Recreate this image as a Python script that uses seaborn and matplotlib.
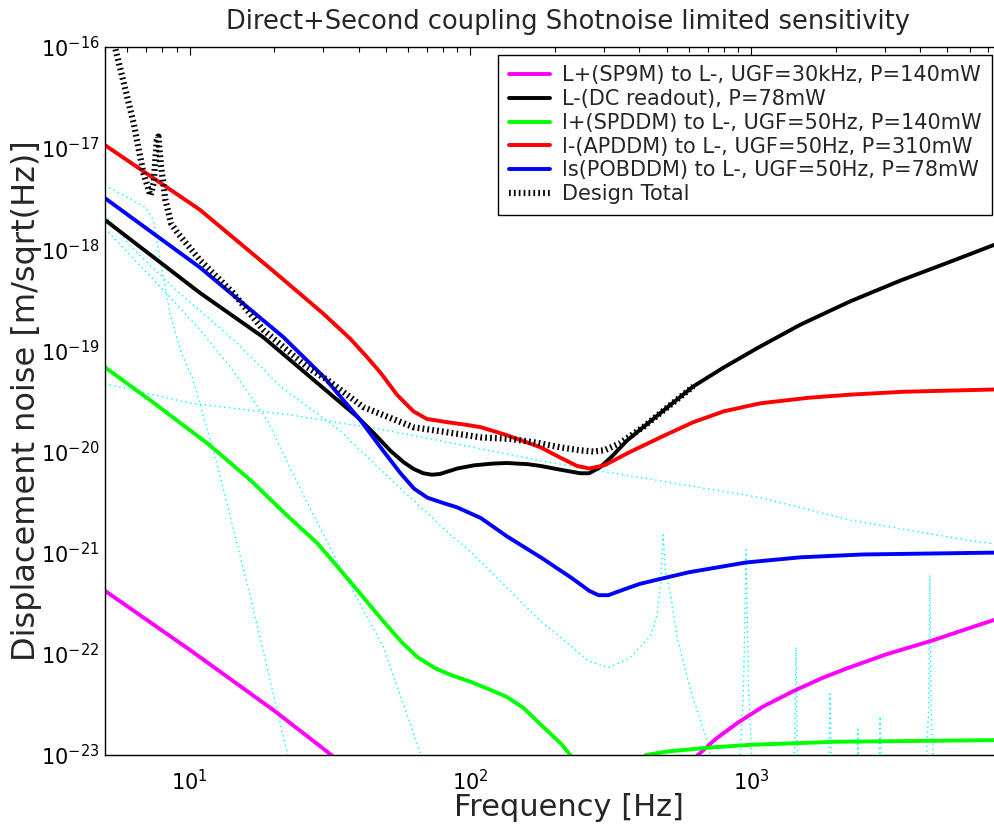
import matplotlib
matplotlib.use("Agg")
import numpy as np
import pandas as pd
import matplotlib.pyplot as plt
import seaborn as sns

# values (Hz, m/sqrt(Hz))
f_sp9m = [5, 10, 20, 30, 60, 150, 300, 450, 647, 750, 900, 1100, 1420, 1800, 2200, 3000, 4400, 6000,
          7100, 10000]
n_sp9m = [4.2e-22, 1.1e-22, 2.75e-23, 1.15e-23, 2.5e-24, 8e-25, 1.5e-24, 4e-24, 1.0e-23, 1.45e-23,
          2.1e-23, 3.0e-23, 4.3e-23, 5.8e-23, 7.2e-23, 9.8e-23, 1.35e-22, 1.8e-22, 2.1e-22, 2.8e-22]

f_dc = [5, 10.9, 18.3, 39.6, 45, 51.9, 58, 63, 68, 73, 78, 90, 103, 120, 135, 160, 178, 210, 246,
        265, 290, 320, 362, 475, 622, 800, 1050, 1500, 2250, 3400, 5100, 7300, 10000]
n_dc = [1.95e-18, 3.7e-19, 1.35e-19, 2.2e-20, 1.55e-20, 1.02e-20, 7.8e-21, 6.7e-21, 6.1e-21, 5.9e-21,
        6.0e-21, 6.8e-21, 7.3e-21, 7.6e-21, 7.7e-21, 7.5e-21, 7.2e-21, 6.6e-21, 6.1e-21, 6.1e-21,
        7.0e-21, 9.0e-21, 1.29e-20, 2.4e-20, 4.4e-20, 6.8e-20, 1.05e-19, 1.8e-19, 3.05e-19, 4.9e-19,
        7.5e-19, 1.1e-18, 1.45e-18]

f_spddm = [5, 7.26, 11.6, 16.5, 22, 28.6, 35, 42, 49, 57, 64.7, 75, 84.9, 100, 118, 135, 155, 178,
           210, 234, 300, 380, 423, 500, 700, 1000, 2000, 7100, 10000]
n_spddm = [6.8e-20, 3.2e-20, 1.2e-20, 5.2e-21, 2.4e-21, 1.23e-21, 6.4e-22, 3.5e-22, 2.1e-22, 1.3e-22,
           9.3e-23, 7.2e-23, 6.2e-23, 5.3e-23, 4.4e-23, 3.75e-23, 2.9e-23, 2.0e-23, 1.3e-23, 9e-24,
           5e-24, 8e-24, 1.0e-23, 1.08e-23, 1.18e-23, 1.26e-23, 1.35e-23, 1.4e-23, 1.4e-23]

f_apddm = [5, 10.9, 20, 30, 37.4, 43, 47.9, 55, 62.7, 70, 82.8, 95, 109, 135, 178, 209, 240, 265,
           300, 362, 475, 622, 800, 1080, 1600, 2250, 3500, 7200, 10000]
n_apddm = [1.07e-17, 2.45e-18, 6.0e-19, 2.3e-19, 1.3e-19, 8.5e-20, 6.0e-20, 3.6e-20, 2.5e-20,
           2.1e-20, 1.95e-20, 1.85e-20, 1.74e-20, 1.45e-20, 1.1e-20, 8.7e-21, 7.2e-21, 6.8e-21,
           7.3e-21, 9.6e-21, 1.38e-20, 1.95e-20, 2.5e-20, 3.0e-20, 3.4e-20, 3.65e-20, 3.9e-20,
           4.1e-20, 4.15e-20]

f_pobddm = [5, 10.9, 21.6, 30, 40.6, 47.9, 56.4, 63, 70.3, 80, 89.9, 109, 135, 178, 230, 265, 286,
            310, 342, 400, 462, 600, 959, 1500, 2500, 7100, 10000]
n_pobddm = [3.2e-18, 6.6e-19, 1.35e-19, 5.5e-20, 2.04e-20, 1.1e-20, 6.1e-21, 4.3e-21, 3.5e-21, 3.1e-21,
            2.8e-21, 2.2e-21, 1.45e-21, 9.0e-22, 5.6e-22, 4.2e-22, 3.8e-22, 3.8e-22, 4.2e-22, 4.9e-22,
            5.4e-22, 6.4e-22, 8.0e-22, 9.0e-22, 9.6e-22, 1.0e-21, 1.0e-21]

f_total = [5, 5.46, 6.32, 6.86, 7.26, 7.45, 7.65, 7.75, 7.9, 8.2, 8.6, 9.07, 10.9, 14.3, 18.3, 26.3,
           31, 41.6, 62.7, 109, 140, 173, 209, 245, 274, 300, 340, 413, 475, 622]
n_total = [2.5e-16, 9.3e-17, 1.78e-17, 5.6e-18, 3.4e-18, 4.5e-18, 1.2e-17, 1.3e-17, 7e-18, 3.1e-18,
           1.8e-18, 1.45e-18, 7.8e-19, 3.7e-19, 1.6e-19, 6.8e-20, 5.1e-20, 2.75e-20, 1.74e-20,
           1.38e-20, 1.33e-20, 1.22e-20, 1.1e-20, 1.03e-20, 1.0e-20, 1.03e-20, 1.2e-20, 1.75e-20,
           2.4e-20, 4.4e-20]

# design noise budget terms (thin cyan dotted)
f_seis = [5, 6.97, 7.45, 7.89, 8.56, 9.29, 10.3, 12.6, 16.5, 22.3, 25]
n_seis = [4.3e-18, 2.6e-18, 1.9e-18, 7.4e-19, 2.2e-19, 1.0e-19, 5.1e-20, 7.1e-21, 3.6e-22, 1.04e-23, 3e-24]

f_ggn = [5, 7.9, 10.9, 14, 19, 24.2, 34.4, 49, 66.4, 75]
n_ggn = [1.6e-18, 4.2e-19, 1.6e-19, 6.8e-20, 2.0e-20, 4.9e-21, 7.2e-22, 1.17e-22, 1.05e-23, 3e-24]

f_susp = [5, 6.2, 9, 14.4, 21.1, 34.4, 47.9, 85, 97.5, 178, 220, 263, 310, 368, 438, 461, 476, 486,
          497, 515, 546, 611, 703, 760,
          900, 940, 959, 978, 1020,
          1380, 1430, 1445, 1460, 1510,
          1830, 1890, 1910, 1930, 1990,
          2300, 2375, 2400, 2425, 2500,
          2760, 2850, 2880, 2910, 3000,
          4150, 4290, 4330, 4370, 4520, 10000]
n_susp = [2.2e-18, 1.05e-18, 3.9e-19, 1.26e-19, 4.4e-20, 1.6e-20, 6.6e-21, 1.5e-21, 1.1e-21, 2.1e-22,
          1.3e-22, 8.5e-23, 7.3e-23, 9.0e-23, 1.5e-22, 2.3e-22, 5e-22, 1.5e-21,
          6e-22, 4.0e-22, 1.4e-22, 4.2e-23, 1.3e-23, 5e-24,
          4e-24, 5e-23, 1.07e-21, 5e-23, 4e-24,
          4e-24, 1.2e-23, 1.17e-22, 1.2e-23, 4e-24,
          4e-24, 8e-24, 4.0e-23, 8e-24, 4e-24,
          4e-24, 6e-24, 1.8e-23, 6e-24, 4e-24,
          4e-24, 7e-24, 2.4e-23, 7e-24, 4e-24,
          4e-24, 3e-23, 6.0e-22, 3e-23, 4e-24, 4e-24]

f_mirror = [5, 10.1, 22.9, 51.9, 178, 274, 1080, 2250, 6170, 10000]
n_mirror = [4.7e-20, 3.0e-20, 2.3e-20, 1.6e-20, 8.1e-21, 6.6e-21, 3.5e-21, 2.1e-21, 1.3e-21, 1.1e-21]

labels = ["L+(SP9M) to L-, UGF=30kHz, P=140mW",
          "L-(DC readout), P=78mW",
          "l+(SPDDM) to L-, UGF=50Hz, P=140mW",
          "l-(APDDM) to L-, UGF=50Hz, P=310mW",
          "ls(POBDDM) to L-, UGF=50Hz, P=78mW",
          "Design Total"]

sns.set_style("white")
plt.rcParams["font.family"] = ["DejaVu Sans"]

fig = plt.figure(figsize=(9.94, 8.31), dpi=100)
ax = fig.add_axes([0.1056, 0.0915, 0.9326, 0.852])
ax.set_xscale("log")
ax.set_yscale("log")

cyan = "#00FFFF"
for fx, ny in [(f_seis, n_seis), (f_ggn, n_ggn), (f_susp, n_susp), (f_mirror, n_mirror)]:
    sns.lineplot(x=fx, y=ny, ax=ax, color=cyan, lw=1.0, linestyle=(0, (1, 2.5)),
                 estimator=None, sort=False, legend=False)

curves = [(f_sp9m, n_sp9m, "#FF00FF"),
          (f_dc, n_dc, "black"),
          (f_spddm, n_spddm, "#00FF00"),
          (f_apddm, n_apddm, "#FF0000"),
          (f_pobddm, n_pobddm, "#0000FF")]
for (fx, ny, col), lab in zip(curves, labels):
    sns.lineplot(x=fx, y=ny, ax=ax, color=col, lw=2.8, label=lab,
                 estimator=None, sort=False, solid_joinstyle="round")

sns.lineplot(x=f_total, y=n_total, ax=ax, color="black", lw=4.5, linestyle=(0, (0.28, 0.5)),
             label=labels[5], estimator=None, sort=False)

ax.set_xlim(5, 1e4)
ax.set_ylim(1e-23, 1e-16)
ax.set_xticks([10, 100, 1000])
ax.set_yticks([10.0 ** k for k in range(-23, -15)])

ax.tick_params(which="both", direction="in", top=True, right=True, colors="black")
ax.tick_params(which="major", length=6, width=0.8, labelsize=15, pad=10)
ax.tick_params(which="minor", length=3.5, width=0.8)
ax.tick_params(axis="y", pad=4)
for sp in ax.spines.values():
    sp.set_color("black")
    sp.set_linewidth(1.0)

ax.set_title("Direct+Second coupling Shotnoise limited sensitivity", fontsize=18.5, pad=13)
ax.set_xlabel("Frequency [Hz]", fontsize=22)
ax.set_ylabel("Displacement noise [m/sqrt(Hz)]", fontsize=23)
ax.xaxis.set_label_coords(0.5, -0.0537)
ax.yaxis.set_label_coords(-0.068, 0.5)

leg = ax.legend(loc="upper right", bbox_to_anchor=((992 - 105) / 927.0, 1 - 8 / 708.0),
                borderaxespad=0, fontsize=15, frameon=True, fancybox=False,
                edgecolor="black", framealpha=1, handlelength=2.0, labelspacing=0.18,
                borderpad=0.5, handletextpad=0.55)
leg.get_frame().set_linewidth(1.0)

fig.savefig("out.png", dpi=100)
